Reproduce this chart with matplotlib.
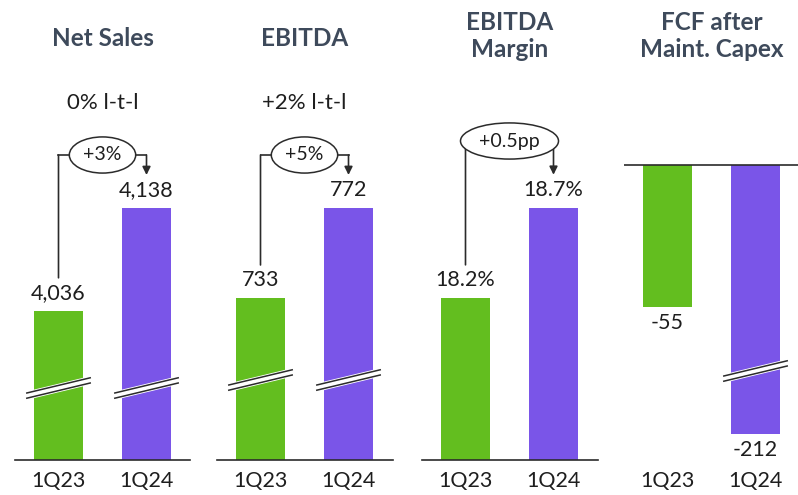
#!/usr/bin/env python3
"""
Quarterly KPI panels: 1Q23 vs 1Q24
"""

import numpy as np
import matplotlib
matplotlib.use('Agg')
import matplotlib.pyplot as plt
from matplotlib import transforms

# --- data ---
periods = ['1Q23', '1Q24']
net_sales = [4036, 4138]
ebitda = [733, 772]
ebitda_margin = [18.2, 18.7]
fcf = [-55, -212]

titles = ['Net Sales', 'EBITDA', 'EBITDA\nMargin', 'FCF after\nMaint. Capex']
growth_labels = ['+3%', '+5%', '+0.5pp']
ltl_labels = ['0% l-t-l', '+2% l-t-l']

GREEN = '#63BE1F'
PURPLE = '#7A55E8'
TITLE_COLOR = '#3E4A5B'
TEXT_COLOR = '#1E1E1E'
LINE_COLOR = '#2B2B2B'

plt.rcParams['font.family'] = ['Lato', 'DejaVu Sans']

W, H = 798, 495

# broken scale for the FCF panel: squeeze the range between B_HI and B_LO
B_HI, B_LO, K = -80.0, -189.0, 0.01


def fcf_fwd(y):
    y = np.asarray(y, dtype=float)
    mid = B_HI + (y - B_HI) * K
    low = B_HI + (B_LO - B_HI) * K + (y - B_LO)
    return np.where(y >= B_HI, y, np.where(y >= B_LO, mid, low))


def fcf_inv(f):
    f = np.asarray(f, dtype=float)
    f_lo = B_HI + (B_LO - B_HI) * K
    mid = B_HI + (f - B_HI) / K
    low = B_LO + (f - f_lo)
    return np.where(f >= B_HI, f, np.where(f >= f_lo, mid, low))


fig = plt.figure(figsize=(W / 100, H / 100), dpi=100)

panel_left = [14.5, 216.5, 421.5, 623.5]
panel_w = 176
ax_bottom, ax_h = 35, 400

datasets = [net_sales, ebitda, ebitda_margin, fcf]
ylims = [(3888, 4284.8), (662.8, 836.1), (17.3, 19.52), (None, 40.7)]
fmt = [lambda v: f'{v:,}', lambda v: f'{v:,}', lambda v: f'{v:.1f}%', lambda v: f'{v:,}']
break_y = [0.18, 0.20, None, 0.2225]  # axes fraction of break marks
bracket_y = [0.7625, 0.7625, 0.7975]

axes = []
for i, vals in enumerate(datasets):
    ax = fig.add_axes([panel_left[i] / W, ax_bottom / H, panel_w / W, ax_h / H])
    axes.append(ax)
    ax.set_xlim(-0.5, 1.5)
    if i == 3:
        ax.set_yscale('function', functions=(fcf_fwd, fcf_inv))
        ax.set_ylim(float(fcf_inv(-114.25)), ylims[i][1])
    else:
        ax.set_ylim(*ylims[i])

    ax.bar([0, 1], vals, width=0.557, color=[GREEN, PURPLE], zorder=2)

    for s in ['top', 'left', 'right']:
        ax.spines[s].set_visible(False)
    ax.spines['bottom'].set_color(LINE_COLOR)
    ax.spines['bottom'].set_linewidth(1.2)
    if i == 3:
        ax.spines['bottom'].set_visible(False)
        ax.axhline(0, color=LINE_COLOR, lw=1.2, zorder=3)

    ax.set_yticks([])
    ax.set_xticks([0, 1], periods)
    ax.tick_params(axis='x', length=0, pad=8, labelsize=15.5, labelcolor=TEXT_COLOR)

    # value labels
    for x, v in zip([0, 1], vals):
        dy = 13 if v >= 0 else -11.5
        ax.annotate(fmt[i](v), (x, v), xytext=(0, dy), textcoords='offset points',
                    ha='center', va='center', fontsize=15.5, color=TEXT_COLOR, zorder=4)

    # axis break marks
    if break_y[i] is not None:
        trans = ax.get_xaxis_transform()
        bars_to_break = [0, 1] if i < 3 else [1]
        for x in bars_to_break:
            xs = [x - 0.36, x + 0.36]
            ys = [break_y[i] - 0.019, break_y[i] + 0.019]
            ax.plot(xs, ys, color='white', lw=6, transform=trans, zorder=5,
                    solid_capstyle='butt', clip_on=False)
            for off in (-2.6, 2.6):
                t = transforms.offset_copy(trans, fig=fig, x=0, y=off, units='dots')
                ax.plot(xs, ys, color=LINE_COLOR, lw=1.1, transform=t, zorder=6,
                        clip_on=False)

    # titles
    cx = (panel_left[i] + panel_w / 2) / W
    ty = 38 if '\n' not in titles[i] else 36
    fig.text(cx, 1 - ty / H, titles[i], ha='center', va='center', fontsize=17.5,
             weight='bold', color=TITLE_COLOR, linespacing=1.2)

# growth brackets
for i in range(3):
    ax = axes[i]
    vals = datasets[i]
    xtrans = ax.get_xaxis_transform()
    above = transforms.offset_copy(ax.transData, fig=fig, x=0, y=33, units='dots')
    by = bracket_y[i]
    ax.plot([0, 1], [by, by], color=LINE_COLOR, lw=1.2, transform=xtrans,
            clip_on=False, zorder=3)
    ax.annotate('', xy=(0, vals[0]), xycoords=above, xytext=(0, by),
                textcoords=xtrans,
                arrowprops=dict(arrowstyle='-', color=LINE_COLOR, lw=1.2,
                                shrinkA=0, shrinkB=0), zorder=3)
    ax.annotate('', xy=(1, vals[1]), xycoords=above, xytext=(1, by),
                textcoords=xtrans,
                arrowprops=dict(arrowstyle='-|>', color=LINE_COLOR, lw=1.2,
                                shrinkA=0, shrinkB=0, mutation_scale=12), zorder=3)
    ax.text(0.5, by, growth_labels[i], transform=xtrans, ha='center', va='center',
            fontsize=14, color=TEXT_COLOR, zorder=7,
            bbox=dict(boxstyle='ellipse,pad=0.22', fc='white', ec=LINE_COLOR, lw=1.1))

# like-for-like labels
for i, lbl in enumerate(ltl_labels):
    axes[i].text(0.5, 0.8925, lbl, transform=axes[i].transAxes, ha='center',
                 va='center', fontsize=16, color=TEXT_COLOR)

fig.savefig('out.png', dpi=100)
